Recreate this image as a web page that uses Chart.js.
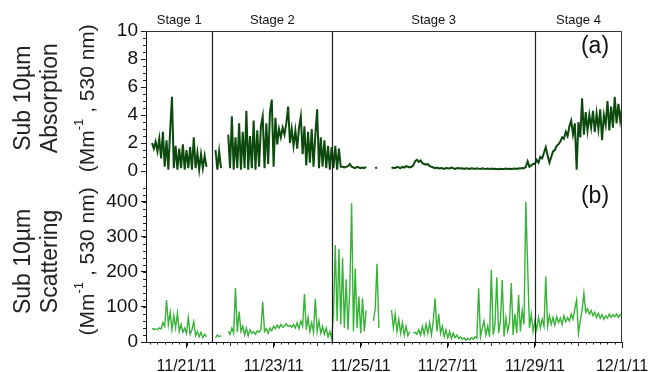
<!DOCTYPE html>
<html>
<head>
<meta charset="utf-8">
<script src="https://cdn.jsdelivr.net/npm/chart.js@4.4.1/dist/chart.umd.min.js"></script>
<style>
  html, body { margin: 0; padding: 0; background: #fff; }
  #wrap { width: 652px; height: 372px; }
</style>
</head>
<body>
<div id="wrap"><canvas id="chart" width="652" height="372"></canvas></div>
<script>
// hourly samples starting 11/20/11 00:00 (x axis is in days of November)
const startDay = 20;
const stepHours = 1;

// sub 10um absorption, Mm-1 at 530 nm
const absorption = [
  null, null, null, null, null, 2.0, 1.6, 2.1, 1.4, 2.3, 0.9, 2.8,
  0.3, 2.2, 0.1, 2.9, 5.3, 0.2, 1.8, 0.1, 1.6, 0.2, 1.9, 0.1,
  1.5, 0.2, 1.7, 0.1, 2.4, 0.2, 1.3, 0.1, 1.2, 0.2, 1.1, 0.3,
  null, null, null, null, 1.5, 0.1, 1.4, 0.2, null, null, null, 2.6,
  0.2, 3.9, 0.1, 2.4, 0.2, 3.4, 0.1, 2.8, 0.2, 4.3, 0.1, 2.5,
  0.2, 3.6, 0.1, 2.9, 0.3, 3.2, 3.9, 0.2, 3.4, 0.5, 4.2, 5.1,
  0.3, 3.8, 1.9, 3.0, 2.4, 3.1, 2.6, 3.4, 4.6, 2.0, 3.0, 1.8,
  2.9, 1.6, 3.1, 3.9, 1.2, 3.2, 0.4, 2.8, 0.6, 3.0, 0.3, 2.6,
  4.4, 0.2, 2.4, 0.3, 2.2, 0.2, 1.8, 0.1, 1.7, 0.2, 1.8, 0.1,
  1.6, 0.3, 0.3, 0.25, 0.3, 0.35, 0.5, 0.3, 0.25, 0.2, 0.3, 0.25,
  0.2, 0.25, 0.2, 0.3, null, null, null, null, 0.2, 0.25, null, null,
  null, null, null, null, null, 0.2, 0.25, 0.2, 0.3, 0.25, 0.2, 0.3,
  0.25, 0.35, 0.3, 0.25, 0.3, 0.4, 0.7, 0.8, 0.65, 0.75, 0.55, 0.5,
  0.45, 0.5, 0.35, 0.3, 0.25, 0.2, 0.25, 0.18, 0.22, 0.2, 0.15, 0.22,
  0.2, 0.18, 0.25, 0.2, 0.15, 0.2, 0.22, 0.18, 0.2, 0.15, 0.2, 0.18,
  0.15, 0.2, 0.18, 0.15, 0.2, 0.17, 0.15, 0.2, 0.16, 0.14, 0.18, 0.15,
  0.17, 0.14, 0.16, 0.15, 0.13, 0.16, 0.15, 0.14, 0.17, 0.15, 0.16, 0.14,
  0.16, 0.18, 0.15, 0.2, 0.18, 0.22, 0.2, 0.3, 0.7, 0.3, 0.4, 0.5,
  0.5, 0.8, 0.6, 1.0, 0.9, 1.3, 1.7, 1.1, 0.6, 1.0, 1.4, 1.5,
  1.8, 1.9, 2.1, 2.4, 2.3, 2.8, 2.5, 3.2, 3.6, 2.6, 3.4, 0.1,
  3.5, 2.4, 5.2, 2.6, 4.2, 2.9, 4.0, 3.1, 4.3, 2.8, 4.1, 3.0,
  4.4, 2.2, 4.0, 3.3, 5.0, 2.9, 4.6, 3.1, 5.3, 3.4, 4.8, 3.6,
  4.5
];

// sub 10um scattering, Mm-1 at 530 nm
const scattering = [
  null, null, null, null, null, 39, 36, 38, 35, 40, 37, 55,
  45, 120, 50, 85, 35, 75, 40, 83, 30, 50, 28, 40,
  25, 70, 22, 35, 58, 18, 30, 15, 28, 12, 22, 15,
  null, null, null, null, 12, 20, 15, 18, null, null, null, 30,
  22, 40, 25, 154, 28, 87, 30, 45, 20, 40, 18, 35,
  25, 30, 22, 32, 28, 35, 115, 30, 38, 25, 40, 32,
  45, 38, 48, 40, 50, 42, 46, 52, 44, 48, 42, 50,
  40, 55, 38, 60, 45, 137, 35, 70, 30, 55, 28, 123,
  30, 60, 25, 45, 22, 40, 15, 30, 10, 80, 277, 60,
  265, 50, 240, 40, 179, 35, 150, 396, 30, 210, 40, 130,
  25, 125, 30, 90, null, null, null, 60, 95, 223, 40, null,
  null, null, null, null, null, 91, 40, 80, 30, 65, 25, 55,
  20, 45, 18, 30, null, 25, 28, 22, 35, 20, 45, 22,
  50, 25, 55, 20, 60, 125, 30, 80, 25, 45, 15, 35,
  12, 30, 10, 25, 12, 20, 10, 15, 8, 12, 5, 10,
  6, 12, 8, 15, 10, 153, 15, 40, 60, 20, 45, 15,
  206, 20, 50, 185, 25, 60, 177, 15, 70, 30, 55, 168,
  20, 80, 25, 134, 30, 90, 50, 401, 215, 40, 80, 30,
  60, 35, 70, 40, 65, 45, 187, 45, 75, 50, 70, 48,
  72, 55, 68, 50, 75, 58, 70, 60, 80, 65, 95, 120,
  25, 60, 90, 139, 85, 95, 80, 90, 75, 85, 70, 82,
  68, 78, 65, 75, 68, 80, 70, 78, 72, 80, 70, 78,
  75
];

const stageBounds = [21.596, 24.35, 29.0];
const stageLabels = ["Stage 1", "Stage 2", "Stage 3", "Stage 4"];
const dateTicks = [21, 23, 25, 27, 29, 31];
const dateLabels = ["11/21/11", "11/23/11", "11/25/11", "11/27/11", "11/29/11", "12/1/11"];
const absTicks = [0, 2, 4, 6, 8, 10];
const scatTicks = [0, 100, 200, 300, 400];
const absTitle = ["Sub 10\u00b5m", "Absorption"];
const scatTitle = ["Sub 10\u00b5m", "Scattering"];
const unitText = ["(Mm", "-1", " , 530 nm)"];

const fontFamily = "'Liberation Sans', Arial, sans-serif";
Chart.defaults.font.family = fontFamily;
Chart.defaults.color = "#111";

function toPoints(values) {
    return values.map((v, i) => ({ x: startDay + i * stepHours / 24, y: v }));
}

// rotated three-line axis title, the unit line has a superscript
function drawAxisTitle(ctx, lines, cy) {
    ctx.save();
    ctx.fillStyle = "#222";
    ctx.textBaseline = "middle";
    const xs = [24, 51];
    lines.forEach((line, i) => {
        ctx.save();
        ctx.translate(xs[i], cy);
        ctx.rotate(-Math.PI / 2);
        ctx.font = "23px " + fontFamily;
        ctx.textAlign = "center";
        ctx.fillText(line, 0, 0);
        ctx.restore();
    });

    ctx.translate(88, cy);
    ctx.rotate(-Math.PI / 2);
    ctx.textAlign = "left";
    const big = "21px " + fontFamily;
    const small = "13px " + fontFamily;
    ctx.font = big;
    const w0 = ctx.measureText(unitText[0]).width;
    const w2 = ctx.measureText(unitText[2]).width;
    ctx.font = small;
    const w1 = ctx.measureText(unitText[1]).width;
    let pos = -(w0 + w1 + w2) / 2;
    ctx.font = big;
    ctx.fillText(unitText[0], pos, 0);
    pos += w0;
    ctx.font = small;
    ctx.fillText(unitText[1], pos, -9);
    pos += w1;
    ctx.font = big;
    ctx.fillText(unitText[2], pos, 0);
    ctx.restore();
}

// stage lines, frame, minor ticks, titles and panel notes
const decorPlugin = {
    id: "decor",
    afterDatasetsDraw(chart) {
        const { ctx, chartArea, scales } = chart;
        const xs = scales.x;
        const yA = scales.yA, yB = scales.yB;
        ctx.save();

        // stage separators
        ctx.strokeStyle = "#222";
        ctx.lineWidth = 1.2;
        stageBounds.forEach((d) => {
            const px = Math.round(xs.getPixelForValue(d)) + 0.5;
            ctx.beginPath();
            ctx.moveTo(px, chartArea.top);
            ctx.lineTo(px, chartArea.bottom);
            ctx.stroke();
        });

        // top and right frame
        ctx.strokeStyle = "#333";
        ctx.lineWidth = 1;
        ctx.beginPath();
        ctx.moveTo(chartArea.left, chartArea.top + 0.5);
        ctx.lineTo(chartArea.right - 0.5, chartArea.top + 0.5);
        ctx.lineTo(chartArea.right - 0.5, chartArea.bottom);
        ctx.stroke();

        // minor ticks
        ctx.strokeStyle = "#222";
        ctx.beginPath();
        for (let h = 4; h <= 264; h += 4) {
            const d = startDay + h / 24;
            if (d < xs.min) continue;
            const px = Math.round(xs.getPixelForValue(d)) + 0.5;
            const len = h % 24 === 0 ? 4 : 2.5;
            ctx.moveTo(px, chartArea.bottom);
            ctx.lineTo(px, chartArea.bottom + len);
        }
        for (let v = 0; v <= 10; v += 0.5) {
            const py = Math.round(yA.getPixelForValue(v)) + 0.5;
            ctx.moveTo(chartArea.left, py);
            ctx.lineTo(chartArea.left - 3, py);
        }
        for (let v = 0; v <= 440; v += 20) {
            const py = Math.round(yB.getPixelForValue(v)) + 0.5;
            ctx.moveTo(chartArea.left, py);
            ctx.lineTo(chartArea.left - 3, py);
        }
        ctx.stroke();

        // stage titles above the frame
        ctx.fillStyle = "#111";
        ctx.font = "13px " + fontFamily;
        ctx.textAlign = "center";
        ctx.textBaseline = "middle";
        const edges = [xs.min, ...stageBounds, xs.max];
        stageLabels.forEach((label, i) => {
            const mid = (xs.getPixelForValue(edges[i]) + xs.getPixelForValue(edges[i + 1])) / 2;
            ctx.fillText(label, mid, chartArea.top - 11);
        });

        // panel letters
        ctx.font = "23px " + fontFamily;
        ctx.fillText("(a)", chartArea.right - 27, yA.getPixelForValue(8.9));
        ctx.fillText("(b)", chartArea.right - 27, yB.getPixelForValue(414));
        ctx.restore();

        drawAxisTitle(ctx, absTitle, yA.getPixelForValue(5.2));
        drawAxisTitle(ctx, scatTitle, yB.getPixelForValue(230));
    }
};

function setTicks(values) {
    return (scale) => { scale.ticks = values.map((v) => ({ value: v })); };
}

const ctx = document.getElementById("chart").getContext("2d");
new Chart(ctx, {
    type: "line",
    data: {
        datasets: [
            {
                label: "Absorption",
                data: toPoints(absorption),
                yAxisID: "yA",
                borderColor: "#0d4a0d",
                borderWidth: 2,
                pointRadius: 0,
                spanGaps: false
            },
            {
                label: "Scattering",
                data: toPoints(scattering),
                yAxisID: "yB",
                borderColor: "#36b236",
                borderWidth: 1.4,
                pointRadius: 0,
                spanGaps: false
            }
        ]
    },
    options: {
        responsive: false,
        animation: false,
        events: [],
        layout: { padding: { top: 31, right: 30, left: 0, bottom: 0 } },
        plugins: { legend: { display: false }, tooltip: { enabled: false } },
        scales: {
            x: {
                type: "linear",
                position: "bottom",
                min: 20.07,
                max: 31,
                afterBuildTicks: setTicks(dateTicks),
                afterFit: (scale) => {
                    scale.height = 30;
                    scale.paddingLeft = 0;
                    scale.paddingRight = 0;
                },
                ticks: {
                    autoSkip: false,
                    maxRotation: 0,
                    padding: 9,
                    font: { size: 16 },
                    callback: (value) => dateLabels[dateTicks.indexOf(value)]
                },
                grid: { drawOnChartArea: false, tickLength: 6, color: "#111" },
                border: { color: "#111", width: 1 }
            },
            yA: {
                type: "linear",
                position: "left",
                stack: "panels",
                stackWeight: 147,
                weight: 2,
                min: -0.5,
                max: 10,
                afterBuildTicks: setTicks(absTicks),
                afterFit: (scale) => { scale.width = 146; },
                ticks: { autoSkip: false, padding: 3, font: { size: 19 } },
                grid: { drawOnChartArea: false, tickLength: 5, color: "#111" },
                border: { color: "#111", width: 1 }
            },
            yB: {
                type: "linear",
                position: "left",
                stack: "panels",
                stackWeight: 164,
                weight: 1,
                min: 0,
                max: 468,
                afterBuildTicks: setTicks(scatTicks),
                afterFit: (scale) => { scale.width = 146; },
                ticks: { autoSkip: false, padding: 3, font: { size: 19 } },
                grid: { drawOnChartArea: false, tickLength: 5, color: "#111" },
                border: { color: "#111", width: 1 }
            }
        }
    },
    plugins: [decorPlugin]
});
</script>
</body>
</html>
